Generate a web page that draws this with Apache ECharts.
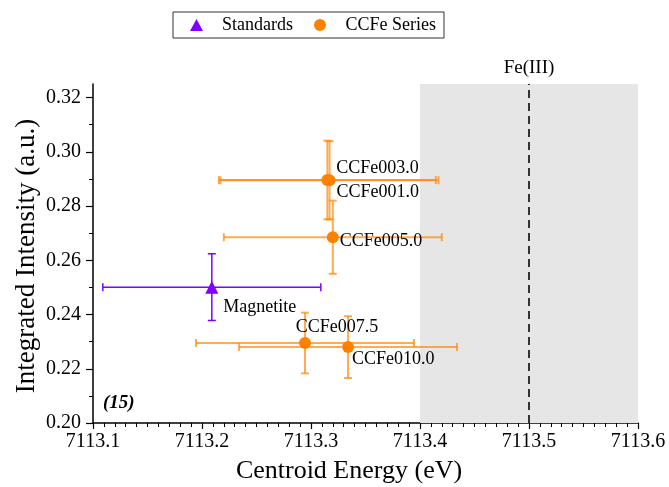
<!DOCTYPE html>
<html>
<head>
<meta charset="utf-8">
<script src="https://cdn.jsdelivr.net/npm/echarts@6/dist/echarts.min.js"></script>
<style>
  html, body { margin: 0; padding: 0; background: #ffffff; }
  #chart { width: 669px; height: 487px; }
</style>
</head>
<body>
<div id="chart"></div>
<script>
// Axis ticks
const xTicks = [7113.1, 7113.2, 7113.3, 7113.4, 7113.5, 7113.6];
const yTicks = [0.20, 0.22, 0.24, 0.26, 0.28, 0.30, 0.32];
const yMinorTicks = [0.21, 0.23, 0.25, 0.27, 0.29, 0.31];

// Reference standards
const standardNames = ['Magnetite'];
const standardEnergy = [7113.209];
const standardIntensity = [0.2501];
const standardEnergyErr = [0.100];
const standardIntensityErr = [0.0123];

// CCFe samples
const sampleNames = ['CCFe003.0', 'CCFe001.0', 'CCFe005.0', 'CCFe007.5', 'CCFe010.0'];
const sampleEnergy = [7113.315, 7113.317, 7113.320, 7113.2945, 7113.334];
const sampleIntensity = [0.2896, 0.2895, 0.2685, 0.2295, 0.2280];
const sampleEnergyErr = [0.0995, 0.100, 0.100, 0.100, 0.100];
const sampleIntensityErr = [0.0145, 0.0144, 0.0135, 0.0112, 0.0114];

// Fe(III) reference region and edge position
const fe3Range = [7113.4, 7113.6];
const fe3Edge = 7113.5;
const fe3Label = 'Fe(III)';
const panelTag = '(15)';

const FONT = 'Liberation Serif';
const PURPLE = '#8000ff';
const ORANGE = '#ff8000';

// Label placement for each point name
const labelPlacement = {
  'Magnetite': { position: 'right', distance: 5, offset: [0, 20] },
  'CCFe003.0': { position: 'right', distance: 3, offset: [0, -12] },
  'CCFe001.0': { position: 'right', distance: 1, offset: [0, 12] },
  'CCFe005.0': { position: 'right', distance: 1, offset: [0, 4] },
  'CCFe007.5': { position: 'top', distance: 1, offset: [32, 0] },
  'CCFe010.0': { position: 'right', distance: -2, offset: [0, 12] }
};

function pointData(names, xs, ys) {
  return names.map((n, i) => ({
    name: n,
    value: [xs[i], ys[i]],
    label: Object.assign({ show: true, formatter: n }, labelPlacement[n])
  }));
}
function errData(xs, ys, dxs, dys) {
  return xs.map((x, i) => [x, ys[i], dxs[i], dys[i]]);
}

function errorBarRenderer(color, width, cap) {
  return function (params, api) {
    const x = api.value(0), y = api.value(1), dx = api.value(2), dy = api.value(3);
    const l = api.coord([x - dx, y]), r = api.coord([x + dx, y]);
    const t = api.coord([x, y + dy]), b = api.coord([x, y - dy]);
    const seg = (x1, y1, x2, y2) => ({
      type: 'line',
      shape: { x1, y1, x2, y2 },
      style: { stroke: color, lineWidth: width, fill: null }
    });
    return {
      type: 'group',
      children: [
        seg(l[0], l[1], r[0], r[1]),
        seg(l[0], l[1] - cap, l[0], l[1] + cap),
        seg(r[0], r[1] - cap, r[0], r[1] + cap),
        seg(t[0], t[1], b[0], b[1]),
        seg(t[0] - cap, t[1], t[0] + cap, t[1]),
        seg(b[0] - cap, b[1], b[0] + cap, b[1])
      ]
    };
  };
}

const chart = echarts.init(document.getElementById('chart'), null, { renderer: 'canvas' });

const option = {
  backgroundColor: '#ffffff',
  animation: false,
  textStyle: { fontFamily: FONT, color: '#000' },
  grid: { left: 93, right: 31, top: 84, bottom: 64, containLabel: false },
  legend: {
    left: 173,
    top: 12,
    orient: 'horizontal',
    data: [
      { name: 'Standards', icon: 'triangle' },
      { name: 'CCFe Series', icon: 'circle' }
    ],
    itemWidth: 13,
    itemHeight: 12,
    itemGap: 21,
    padding: [4, 8, 4, 17],
    borderColor: '#333',
    borderWidth: 1,
    borderRadius: 0,
    textStyle: { fontFamily: FONT, fontSize: 18, color: '#000', padding: [0, 0, 0, 14] }
  },
  xAxis: {
    type: 'value',
    min: xTicks[0],
    max: xTicks[xTicks.length - 1],
    interval: 0.1,
    axisLine: { show: true, onZero: false, lineStyle: { color: '#000', width: 1.5 } },
    axisTick: { show: true, length: 6, lineStyle: { color: '#000', width: 1.2 } },
    minorTick: { show: true, splitNumber: 10, length: 4, lineStyle: { color: '#000', width: 1 } },
    splitLine: { show: false },
    axisLabel: {
      margin: 9,
      fontFamily: FONT,
      fontSize: 20,
      color: '#000',
      formatter: v => v.toFixed(1)
    }
  },
  yAxis: [
    {
      type: 'value',
      min: 0.20,
      max: 0.325,
      axisLine: { show: true, onZero: false, lineStyle: { color: '#000', width: 1.5 } },
      axisTick: { show: true, length: 7, customValues: yTicks, lineStyle: { color: '#000', width: 1.2 } },
      splitLine: { show: false },
      axisLabel: {
        margin: 12,
        fontFamily: FONT,
        fontSize: 20,
        color: '#000',
        customValues: yTicks,
        formatter: v => v.toFixed(2)
      }
    },
    {
      type: 'value',
      min: 0.20,
      max: 0.325,
      position: 'left',
      axisLine: { show: false },
      axisTick: { show: true, length: 4, customValues: yMinorTicks, lineStyle: { color: '#000', width: 1 } },
      splitLine: { show: false },
      axisLabel: { show: false }
    }
  ],
  graphic: [
    {
      type: 'text', x: 349, y: 471, z: 10,
      style: { text: 'Centroid Energy (eV)', fontFamily: FONT, fontSize: 26, fill: '#000',
               textAlign: 'center', textVerticalAlign: 'middle' }
    },
    {
      type: 'text', x: 27, y: 256, rotation: Math.PI / 2, z: 10,
      style: { text: 'Integrated Intensity (a.u.)', fontFamily: FONT, fontSize: 27, fill: '#000',
               textAlign: 'center', textVerticalAlign: 'middle' }
    },
    {
      type: 'text', x: 103, y: 403, z: 10,
      style: { text: panelTag, fontFamily: FONT, fontSize: 19, fontWeight: 'bold', fontStyle: 'italic',
               fill: '#000', textAlign: 'left', textVerticalAlign: 'middle' }
    }
  ],
  series: [
    {
      // Fe(III) region and edge marker
      type: 'scatter',
      name: 'Fe(III) region',
      data: [],
      z: 1,
      silent: true,
      markArea: {
        silent: true,
        itemStyle: { color: '#e6e6e6', opacity: 1 },
        data: [[{ xAxis: fe3Range[0] }, { xAxis: fe3Range[1] }]]
      },
      markLine: {
        silent: true,
        symbol: ['none', 'none'],
        lineStyle: { color: '#333', width: 2, type: [8, 5] },
        label: {
          show: true,
          position: 'end',
          distance: 6,
          formatter: fe3Label,
          fontFamily: FONT,
          fontSize: 19,
          color: '#000'
        },
        data: [{ xAxis: fe3Edge }]
      }
    },
    {
      type: 'custom',
      name: 'Standards error',
      z: 3,
      clip: true,
      silent: true,
      renderItem: errorBarRenderer(PURPLE, 1.5, 4),
      encode: { x: 0, y: 1 },
      data: errData(standardEnergy, standardIntensity, standardEnergyErr, standardIntensityErr)
    },
    {
      type: 'custom',
      name: 'CCFe error',
      z: 3,
      clip: true,
      silent: true,
      renderItem: errorBarRenderer('rgba(255,135,10,0.7)', 2, 4),
      encode: { x: 0, y: 1 },
      data: errData(sampleEnergy, sampleIntensity, sampleEnergyErr, sampleIntensityErr)
    },
    {
      type: 'scatter',
      name: 'Standards',
      z: 5,
      symbol: 'triangle',
      symbolSize: 13,
      itemStyle: { color: PURPLE, opacity: 1 },
      label: { fontFamily: FONT, fontSize: 18, color: '#000' },
      data: pointData(standardNames, standardEnergy, standardIntensity)
    },
    {
      type: 'scatter',
      name: 'CCFe Series',
      z: 5,
      symbol: 'circle',
      symbolSize: 12,
      itemStyle: { color: ORANGE, opacity: 1 },
      label: { fontFamily: FONT, fontSize: 18, color: '#000' },
      data: pointData(sampleNames, sampleEnergy, sampleIntensity)
    }
  ]
};

chart.setOption(option);
</script>
</body>
</html>
